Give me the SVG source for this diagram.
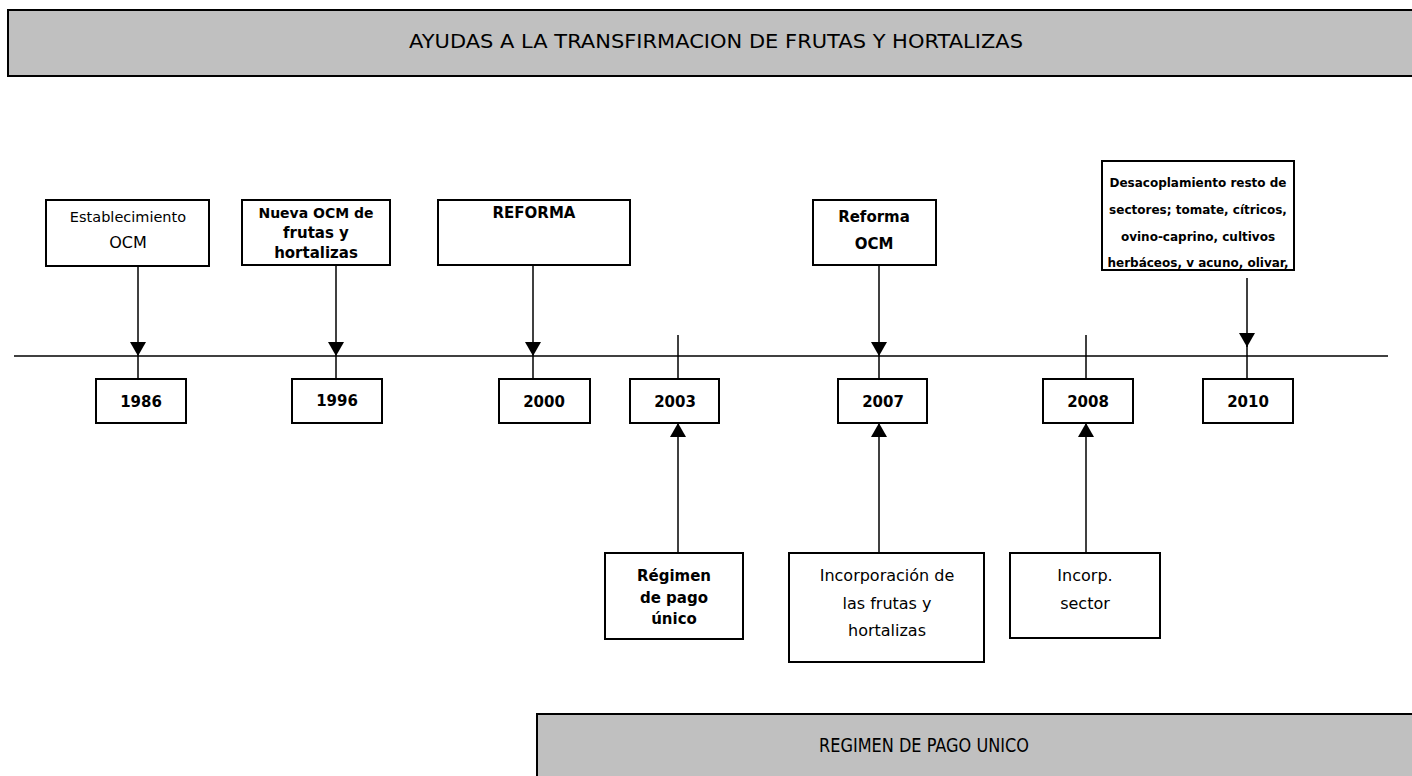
<svg xmlns="http://www.w3.org/2000/svg" width="1412" height="776" viewBox="0 0 1412 776">
<defs>
<style>
.banner{fill:#c0c0c0;stroke:#000;stroke-width:2}
.box{fill:#fff;stroke:#000;stroke-width:2}
.t{font-family:"DejaVu Sans",Verdana,sans-serif;fill:#000;text-anchor:middle}
.b{font-weight:bold}
.ln{stroke:#000;stroke-width:1.5;fill:none}
</style>
<marker id="ah" markerWidth="14" markerHeight="16" refX="14" refY="8" orient="auto" markerUnits="userSpaceOnUse">
<path d="M0,0 L14,8 L0,16 Z" fill="#000"/>
</marker>
</defs>
<g id="banner-top">
<rect class="banner" x="8" y="10" width="1420" height="66"/>
<text class="t" x="716" y="48" font-size="19" textLength="614" lengthAdjust="spacingAndGlyphs">AYUDAS A LA TRANSFIRMACION DE FRUTAS Y HORTALIZAS</text>
</g>
<g id="banner-bottom">
<rect class="banner" x="537" y="714" width="900" height="80"/>
<text class="t" x="924" y="752" font-size="19" textLength="210" lengthAdjust="spacingAndGlyphs">REGIMEN DE PAGO UNICO</text>
</g>
<g id="connectors">
<line class="ln" x1="14" y1="356" x2="1388" y2="356" stroke-width="2"/>
<line class="ln" x1="138" y1="266" x2="138" y2="356" marker-end="url(#ah)"/>
<line class="ln" x1="336" y1="265" x2="336" y2="356" marker-end="url(#ah)"/>
<line class="ln" x1="533" y1="265" x2="533" y2="356" marker-end="url(#ah)"/>
<line class="ln" x1="879" y1="265" x2="879" y2="356" marker-end="url(#ah)"/>
<line class="ln" x1="1247" y1="278" x2="1247" y2="347" marker-end="url(#ah)"/>
<line class="ln" x1="1247" y1="345" x2="1247" y2="379"/>
<line class="ln" x1="678" y1="335" x2="678" y2="379"/>
<line class="ln" x1="1086" y1="335" x2="1086" y2="379"/>
<line class="ln" x1="138" y1="356" x2="138" y2="379"/>
<line class="ln" x1="336" y1="356" x2="336" y2="379"/>
<line class="ln" x1="533" y1="356" x2="533" y2="379"/>
<line class="ln" x1="879" y1="356" x2="879" y2="379"/>
<line class="ln" x1="678" y1="553" x2="678" y2="423" marker-end="url(#ah)"/>
<line class="ln" x1="879" y1="553" x2="879" y2="423" marker-end="url(#ah)"/>
<line class="ln" x1="1086" y1="553" x2="1086" y2="423" marker-end="url(#ah)"/>
</g>
<g id="n-establecimiento">
<rect class="box" x="46" y="200" width="163" height="66"/>
<text class="t" x="128" y="222" font-size="14.5">Establecimiento</text>
<text class="t" x="128" y="248" font-size="16">OCM</text>
</g>
<g id="n-nueva">
<rect class="box" x="242" y="200" width="148" height="65"/>
<text class="t b" x="316" y="218" font-size="14">Nueva OCM de</text>
<text class="t b" x="316" y="238" font-size="15">frutas y</text>
<text class="t b" x="316" y="258" font-size="15">hortalizas</text>
</g>
<g id="n-reforma">
<rect class="box" x="438" y="200" width="192" height="65"/>
<text class="t b" x="534" y="218" font-size="15">REFORMA</text>
</g>
<g id="n-reforma-ocm">
<rect class="box" x="813" y="200" width="123" height="65"/>
<text class="t b" x="874" y="222" font-size="15">Reforma</text>
<text class="t b" x="874" y="249" font-size="15">OCM</text>
</g>
<g id="n-desacoplamiento">
<rect class="box" x="1102" y="161" width="192" height="109"/>
<text class="t b" x="1198" y="187" font-size="12">Desacoplamiento resto de</text>
<text class="t b" x="1198" y="214" font-size="12">sectores; tomate, cítricos,</text>
<text class="t b" x="1198" y="241" font-size="12">ovino-caprino, cultivos</text>
<text class="t b" x="1198" y="267" font-size="12">herbáceos, v acuno, olivar,</text>
</g>
<g id="y1986"><rect class="box" x="96" y="379" width="90" height="44"/><text class="t b" x="141" y="407" font-size="15">1986</text></g>
<g id="y1996"><rect class="box" x="292" y="379" width="90" height="44"/><text class="t b" x="337" y="406" font-size="15">1996</text></g>
<g id="y2000"><rect class="box" x="499" y="379" width="91" height="44"/><text class="t b" x="544" y="407" font-size="15">2000</text></g>
<g id="y2003"><rect class="box" x="630" y="379" width="89" height="44"/><text class="t b" x="675" y="407" font-size="15">2003</text></g>
<g id="y2007"><rect class="box" x="838" y="379" width="89" height="44"/><text class="t b" x="883" y="407" font-size="15">2007</text></g>
<g id="y2008"><rect class="box" x="1043" y="379" width="90" height="44"/><text class="t b" x="1088" y="407" font-size="15">2008</text></g>
<g id="y2010"><rect class="box" x="1203" y="379" width="90" height="44"/><text class="t b" x="1248" y="407" font-size="15">2010</text></g>
<g id="n-regimen">
<rect class="box" x="605" y="553" width="138" height="86"/>
<text class="t b" x="674" y="581" font-size="15">Régimen</text>
<text class="t b" x="674" y="603" font-size="15">de pago</text>
<text class="t b" x="674" y="624" font-size="15">único</text>
</g>
<g id="n-incorporacion">
<rect class="box" x="789" y="553" width="195" height="109"/>
<text class="t" x="887" y="581" font-size="16">Incorporación de</text>
<text class="t" x="887" y="609" font-size="16">las frutas y</text>
<text class="t" x="887" y="636" font-size="16">hortalizas</text>
</g>
<g id="n-incorp-sector">
<rect class="box" x="1010" y="553" width="150" height="85"/>
<text class="t" x="1085" y="581" font-size="16">Incorp.</text>
<text class="t" x="1085" y="609" font-size="16">sector</text>
</g>
</svg>
